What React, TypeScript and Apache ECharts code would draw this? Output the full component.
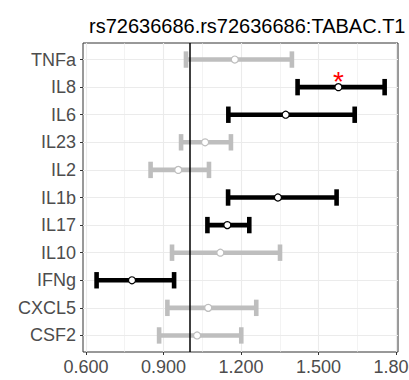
import React, { useEffect, useRef } from "react";
import * as echarts from "echarts";

const title = "rs72636686.rs72636686:TABAC.T1";
const categories = ["TNFa", "IL8", "IL6", "IL23", "IL2", "IL1b", "IL17", "IL10", "IFNg", "CXCL5", "CSF2"];
const estimates = [1.176, 1.577, 1.373, 1.061, 0.957, 1.343, 1.147, 1.12, 0.778, 1.073, 1.03];
const lower = [0.987, 1.419, 1.151, 0.968, 0.85, 1.15, 1.07, 0.933, 0.641, 0.915, 0.883];
const upper = [1.397, 1.756, 1.64, 1.161, 1.076, 1.57, 1.232, 1.351, 0.941, 1.259, 1.201];
const significant = [false, true, true, false, false, true, true, false, true, false, false];
const stars = ["", "*", "", "", "", "", "", "", "", "", ""];
const majorTicks = [0.6, 0.9, 1.2, 1.5, 1.8];
const minorTicks = [0.75, 1.05, 1.35, 1.65];
const referenceLine = 1;

const BLACK = "#000000";
const GREY = "#BEBEBE";
const FONT = "'Liberation Sans', Arial, sans-serif";

export default function App() {
  const ref = useRef<HTMLDivElement>(null);
  useEffect(() => {
    if (!ref.current) return;
    const chart = echarts.init(ref.current, null, { renderer: "svg" });
    const idx = categories.map((_, i) => i);
    const barData = idx.map((i) => [i, lower[i], upper[i], significant[i] ? 1 : 0]);
    const pointSig = idx.filter((i) => significant[i]).map((i) => [estimates[i], i]);
    const pointNs = idx.filter((i) => !significant[i]).map((i) => [estimates[i], i]);
    const starData = idx.filter((i) => stars[i]).map((i) => [estimates[i], i, stars[i]]);

    const option: any = {
      animation: false,
      backgroundColor: "#ffffff",
      title: {
        text: title,
        left: 84,
        top: 11,
        textStyle: { fontFamily: FONT, fontSize: 20, fontWeight: "normal", color: "#000000" },
      },
      grid: {
        left: 83,
        top: 43,
        width: 315,
        height: 309,
        outerBoundsMode: "none",
        containLabel: false,
        show: true,
        borderColor: "#333333",
        borderWidth: 1,
        backgroundColor: "#ffffff",
      },
      xAxis: [
        {
          type: "value",
          position: "bottom",
          min: 0.5884,
          max: 1.8077,
          axisLine: { show: false, onZero: false },
          axisTick: { show: true, customValues: majorTicks, length: 3, lineStyle: { color: "#333333", width: 1 } },
          axisLabel: {
            customValues: majorTicks,
            formatter: (v: number) => v.toFixed(3),
            color: "#4D4D4D",
            fontFamily: FONT,
            fontSize: 18,
            margin: 6,
          },
          splitLine: { show: true, lineStyle: { color: "#EBEBEB", width: 1.1 } },
        },
        {
          type: "value",
          position: "bottom",
          min: 0.5884,
          max: 1.8077,
          axisLine: { show: false, onZero: false },
          axisTick: { show: false, customValues: minorTicks },
          axisLabel: { show: false, customValues: minorTicks },
          splitLine: { show: true, lineStyle: { color: "#EBEBEB", width: 0.6 } },
        },
      ],
      yAxis: {
        type: "value",
        inverse: true,
        min: -0.6,
        max: 10.6,
        axisLine: { show: false, onZero: false },
        axisTick: { show: true, customValues: idx, length: 3, lineStyle: { color: "#333333", width: 1 } },
        axisLabel: {
          customValues: idx,
          formatter: (v: number) => categories[Math.round(v)] ?? "",
          color: "#4D4D4D",
          fontFamily: FONT,
          fontSize: 18,
          margin: 7,
        },
        splitLine: { show: true, lineStyle: { color: "#EBEBEB", width: 1.1 } },
      },
      series: [
        {
          type: "custom",
          xAxisIndex: 0,
          yAxisIndex: 0,
          data: barData,
          encode: { x: [1, 2], y: 0 },
          renderItem: (params: any, api: any) => {
            const y = api.value(0);
            const lo = api.coord([api.value(1), y]);
            const hi = api.coord([api.value(2), y]);
            const color = api.value(3) ? BLACK : GREY;
            const style = { stroke: color, lineWidth: 4.6, lineCap: "butt" };
            const cap = 8.2;
            return {
              type: "group",
              children: [
                { type: "line", shape: { x1: lo[0], y1: lo[1], x2: hi[0], y2: hi[1] }, style },
                { type: "line", shape: { x1: lo[0], y1: lo[1] - cap, x2: lo[0], y2: lo[1] + cap }, style },
                { type: "line", shape: { x1: hi[0], y1: hi[1] - cap, x2: hi[0], y2: hi[1] + cap }, style },
              ],
            };
          },
          z: 2,
        },
        {
          type: "line",
          data: [],
          markLine: {
            silent: true,
            symbol: "none",
            label: { show: false },
            lineStyle: { color: "#000000", width: 1.5, type: "solid" },
            data: [{ xAxis: referenceLine }],
          },
          z: 3,
        },
        {
          type: "scatter",
          data: pointNs,
          symbol: "circle",
          symbolSize: 7,
          itemStyle: { color: "#ffffff", borderColor: GREY, borderWidth: 1.2, opacity: 1 },
          z: 4,
        },
        {
          type: "scatter",
          data: pointSig,
          symbol: "circle",
          symbolSize: 7,
          itemStyle: { color: "#ffffff", borderColor: BLACK, borderWidth: 1.2, opacity: 1 },
          z: 4,
        },
        {
          type: "custom",
          data: starData,
          encode: { x: 0, y: 1 },
          renderItem: (params: any, api: any) => {
            const p = api.coord([api.value(0), api.value(1)]);
            return {
              type: "text",
              x: p[0],
              y: p[1] - 6,
              style: {
                text: starData[params.dataIndex][2],
                fill: "#FF0000",
                fontSize: 28,
                fontFamily: FONT,
                textAlign: "center",
                textVerticalAlign: "middle",
              },
            };
          },
          z: 5,
        },
      ],
    };
    chart.setOption(option);
    return () => chart.dispose();
  }, []);
  return <div ref={ref} style={{ position: "fixed", left: 0, top: 0, width: 409, height: 380 }} />;
}
